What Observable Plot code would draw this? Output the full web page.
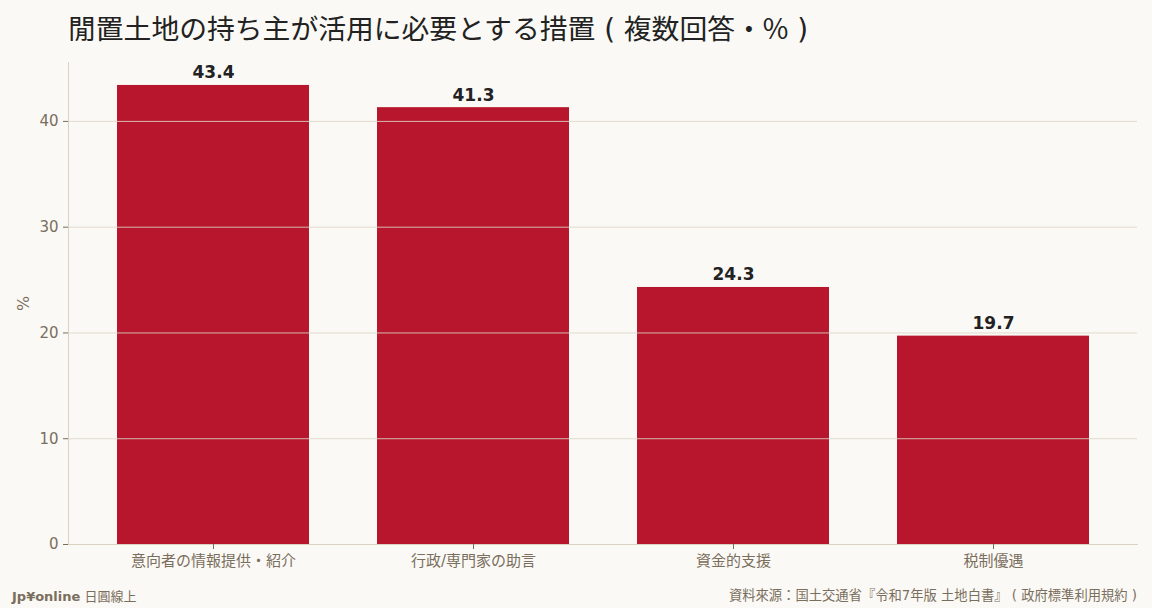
<!DOCTYPE html>
<html>
<head>
<meta charset="utf-8">
<script src="https://cdn.jsdelivr.net/npm/d3@7"></script>
<script src="https://cdn.jsdelivr.net/npm/@observablehq/plot@0.6"></script>
<style>
  html, body { margin: 0; padding: 0; background: #faf9f5; }
  body { width: 1152px; height: 608px; position: relative; overflow: hidden;
         font-family: "DejaVu Sans", "Noto Sans CJK JP", sans-serif; }
  #title { position: absolute; left: 68px; top: 9px; font-size: 27.8px; color: #222;
           font-family: "DejaVu Sans", "Noto Sans CJK JP", sans-serif; white-space: nowrap; line-height: 36px; }
  #title .cjk { font-family: "Noto Sans CJK JP", sans-serif; }
  #chart { position: absolute; left: 0; top: 52px; }
  #brand { position: absolute; left: 12px; top: 586px; font-size: 13px; color: #7a6e5d; white-space: nowrap; }
  #brand b { font-weight: bold; }
  #source { position: absolute; right: 15px; top: 585px; font-size: 13.3px; color: #7a6e5d; white-space: nowrap;
            font-family: "DejaVu Sans", "Noto Sans CJK JP", sans-serif; }
</style>
</head>
<body>
<div id="title">閒置土地の持ち主が活用に必要とする措置 ( 複数回答・<span class="cjk">%</span> )</div>
<div id="chart"></div>
<div id="brand"><b>Jp¥online</b> 日圓線上</div>
<div id="source">資料來源：国土交通省『令和7年版 土地白書』 ( 政府標準利用規約 )</div>
<script>
const categories = ["意向者の情報提供・紹介", "行政/専門家の助言", "資金的支援", "税制優遇"];
const values = [43.4, 41.3, 24.3, 19.7];
const yTicks = [0, 10, 20, 30, 40];

const data = categories.map((c, i) => ({category: c, value: values[i]}));

const axisColor = "#d9d1c2";
const textColor = "#7a6e5d";

const chart = Plot.plot({
  width: 1152,
  height: 528,
  marginTop: 10,
  marginLeft: 68,
  marginRight: 15,
  marginBottom: 36,
  style: {fontFamily: '"DejaVu Sans", "Noto Sans CJK JP", sans-serif', fontSize: "15px", background: "transparent", color: textColor},
  x: {domain: categories, paddingInner: 0.262, paddingOuter: 0.184, label: null},
  y: {domain: [0, d3.max(values) * 1.05], label: null},
  marks: [
    Plot.barY(data, {x: "category", y: "value", fill: "#b8162c"}),
    Plot.ruleY(yTicks.filter(d => d > 0), {stroke: "#ddd6c8", strokeWidth: 1, strokeOpacity: 0.85}),
    Plot.frame({anchor: "left", stroke: axisColor}),
    Plot.frame({anchor: "bottom", stroke: axisColor}),
    Plot.axisY({ticks: yTicks, tickSize: 5, tickPadding: 5, stroke: textColor, fill: textColor, fontSize: 15,
                label: null}),
    Plot.axisY({ticks: [], tickSize: 0, fill: textColor, fontSize: 16,
                label: "%", labelAnchor: "center", labelArrow: "none", labelOffset: 51}),
    Plot.axisX({tickSize: 5, tickPadding: 6, stroke: textColor, fill: textColor, fontSize: 15, label: null}),
    Plot.text(data, {x: "category", y: "value", text: d => d.value.toFixed(1), lineAnchor: "bottom", dy: -7,
                     fontWeight: "bold", fontSize: 17, fill: "#222"})
  ]
});
document.getElementById("chart").appendChild(chart);
</script>
</body>
</html>
